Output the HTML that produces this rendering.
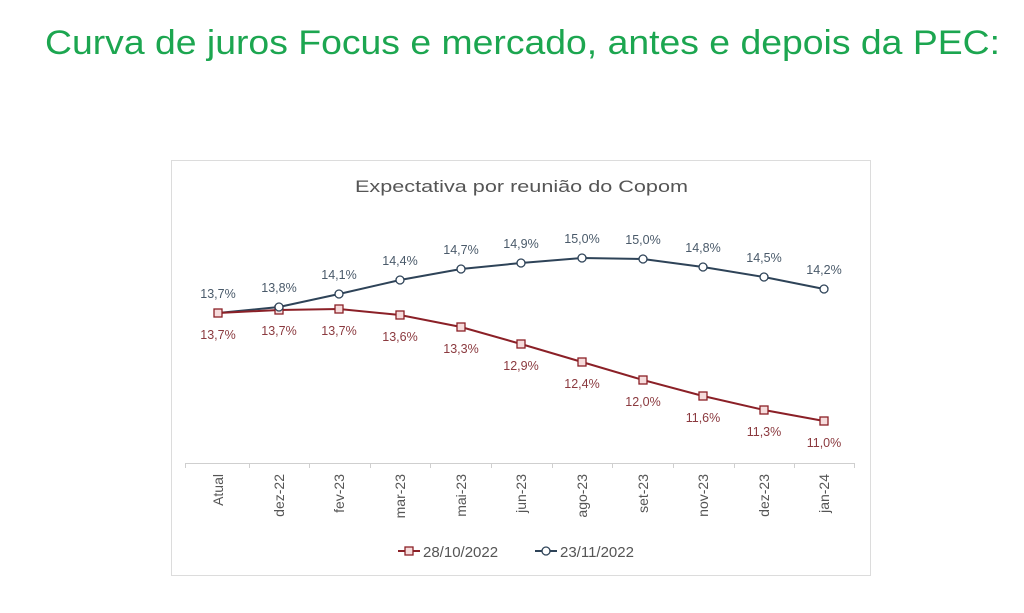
<!DOCTYPE html>
<html><head><meta charset="utf-8"><style>
html,body{margin:0;padding:0;background:#fff;}
svg{display:block;}
</style></head><body>
<svg width="1024" height="613" viewBox="0 0 1024 613" xmlns="http://www.w3.org/2000/svg" font-family="Liberation Sans, sans-serif">
<text x="45" y="54" font-size="34" fill="#1ca650" textLength="955" lengthAdjust="spacingAndGlyphs">Curva de juros Focus e mercado, antes e depois da PEC:</text>
<rect x="171.5" y="160.5" width="699" height="415" fill="#fff" stroke="#dcdcdc"/>
<text x="355" y="192" font-size="17" fill="#555" textLength="333" lengthAdjust="spacingAndGlyphs">Expectativa por reunião do Copom</text>
<line x1="185" y1="463.5" x2="855" y2="463.5" stroke="#cfcfcf"/>
<g stroke="#cfcfcf">
<line x1="185.5" y1="463" x2="185.5" y2="468"/><line x1="249.5" y1="463" x2="249.5" y2="468"/><line x1="309.5" y1="463" x2="309.5" y2="468"/><line x1="370.5" y1="463" x2="370.5" y2="468"/><line x1="430.5" y1="463" x2="430.5" y2="468"/><line x1="491.5" y1="463" x2="491.5" y2="468"/><line x1="552.5" y1="463" x2="552.5" y2="468"/><line x1="612.5" y1="463" x2="612.5" y2="468"/><line x1="673.5" y1="463" x2="673.5" y2="468"/><line x1="734.5" y1="463" x2="734.5" y2="468"/><line x1="794.5" y1="463" x2="794.5" y2="468"/><line x1="854.5" y1="463" x2="854.5" y2="468"/>
</g>
<g font-size="14" fill="#555" text-anchor="end">
<text transform="translate(223,474) rotate(-90)">Atual</text>
<text transform="translate(284,474) rotate(-90)">dez-22</text>
<text transform="translate(344,474) rotate(-90)">fev-23</text>
<text transform="translate(405,474) rotate(-90)">mar-23</text>
<text transform="translate(466,474) rotate(-90)">mai-23</text>
<text transform="translate(526,474) rotate(-90)">jun-23</text>
<text transform="translate(587,474) rotate(-90)">ago-23</text>
<text transform="translate(648,474) rotate(-90)">set-23</text>
<text transform="translate(708,474) rotate(-90)">nov-23</text>
<text transform="translate(769,474) rotate(-90)">dez-23</text>
<text transform="translate(829,474) rotate(-90)">jan-24</text>
</g>
<polyline fill="none" stroke="#2e4358" stroke-width="2" points="218,313 279,307 339,294 400,280 461,269 521,263 582,258 643,259 703,267 764,277 824,289"/>
<polyline fill="none" stroke="#8b2027" stroke-width="2" points="218,313 279,310 339,309 400,315 461,327 521,344 582,362 643,380 703,396 764,410 824,421"/>
<g fill="#f6dcdc" stroke="#8b2027" stroke-width="1.3">
<rect x="214" y="309" width="8" height="8"/><rect x="275" y="306" width="8" height="8"/><rect x="335" y="305" width="8" height="8"/><rect x="396" y="311" width="8" height="8"/><rect x="457" y="323" width="8" height="8"/><rect x="517" y="340" width="8" height="8"/><rect x="578" y="358" width="8" height="8"/><rect x="639" y="376" width="8" height="8"/><rect x="699" y="392" width="8" height="8"/><rect x="760" y="406" width="8" height="8"/><rect x="820" y="417" width="8" height="8"/>
</g>
<g fill="#fff" stroke="#2e4358" stroke-width="1.3">
<circle cx="279" cy="307" r="4"/><circle cx="339" cy="294" r="4"/><circle cx="400" cy="280" r="4"/><circle cx="461" cy="269" r="4"/><circle cx="521" cy="263" r="4"/><circle cx="582" cy="258" r="4"/><circle cx="643" cy="259" r="4"/><circle cx="703" cy="267" r="4"/><circle cx="764" cy="277" r="4"/><circle cx="824" cy="289" r="4"/>
</g>
<g font-size="12.5" fill="#4a5a6a" text-anchor="middle">
<text x="218" y="298">13,7%</text><text x="279" y="292">13,8%</text><text x="339" y="279">14,1%</text><text x="400" y="265">14,4%</text><text x="461" y="254">14,7%</text><text x="521" y="248">14,9%</text><text x="582" y="243">15,0%</text><text x="643" y="244">15,0%</text><text x="703" y="252">14,8%</text><text x="764" y="262">14,5%</text><text x="824" y="274">14,2%</text>
</g>
<g font-size="12.5" fill="#8b3a3f" text-anchor="middle">
<text x="218" y="339">13,7%</text><text x="279" y="335">13,7%</text><text x="339" y="335">13,7%</text><text x="400" y="341">13,6%</text><text x="461" y="353">13,3%</text><text x="521" y="370">12,9%</text><text x="582" y="388">12,4%</text><text x="643" y="406">12,0%</text><text x="703" y="422">11,6%</text><text x="764" y="436">11,3%</text><text x="824" y="447">11,0%</text>
</g>
<line x1="398" y1="551" x2="420" y2="551" stroke="#8b2027" stroke-width="2"/>
<rect x="405" y="547" width="8" height="8" fill="#f6dcdc" stroke="#8b2027" stroke-width="1.3"/>
<text x="423" y="557" font-size="15" fill="#555">28/10/2022</text>
<line x1="535" y1="551" x2="557" y2="551" stroke="#2e4358" stroke-width="2"/>
<circle cx="546" cy="551" r="4" fill="#fff" stroke="#2e4358" stroke-width="1.3"/>
<text x="560" y="557" font-size="15" fill="#555">23/11/2022</text>
</svg>
</body></html>
